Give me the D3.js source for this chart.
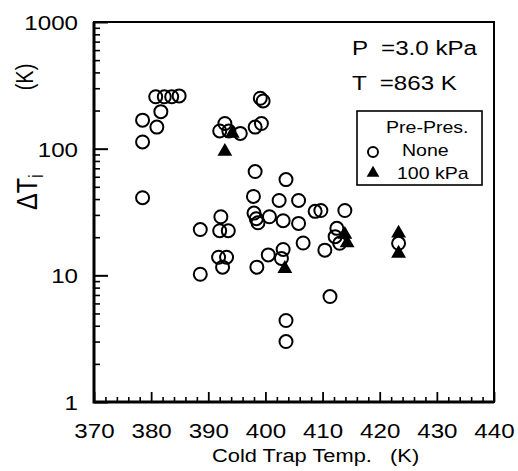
<!DOCTYPE html>
<html>
<head>
<meta charset="utf-8">
<script src="https://cdn.jsdelivr.net/npm/d3@7"></script>
<style>
  html, body { margin: 0; padding: 0; background: #fff; }
  svg { display: block; }
  text { font-family: "Liberation Sans", Arial, Helvetica, sans-serif; fill: #000; white-space: pre; }
</style>
</head>
<body>
<svg id="chart" width="518" height="471"></svg>
<script>
// Cold trap temperature (K) and temperature difference ΔTi (K), no pre-pressurisation
const noneTemp = [380.8, 382.3, 383.6, 384.9, 381.7, 378.5, 381.0, 378.5, 378.5,
  399.1, 399.6,
  392.9, 392.0, 393.6, 395.6, 398.2, 399.3,
  398.2, 403.6, 397.9, 402.4, 405.8, 408.7, 409.7, 413.9,
  392.2, 398.0, 398.4, 398.7, 400.7, 403.1, 405.8,
  392.0, 393.5, 388.6,
  406.6, 410.4,
  391.8, 393.2, 392.5, 388.6,
  398.5, 400.5, 403.1, 402.8,
  411.3, 403.6, 403.6,
  412.5, 412.2, 413.0,
  423.3];
const noneDT = [257, 257, 257, 261, 196, 168, 148, 113, 41,
  250, 238,
  158, 138, 138, 132, 148, 158,
  66, 57, 42, 39, 39, 32, 32.5, 32.5,
  29, 31, 28, 26, 29, 27, 25.7,
  22.5, 22.5, 23,
  18, 15.8,
  13.9, 13.9, 11.6, 10.2,
  11.6, 14.5, 16, 13.6,
  6.8, 4.4, 3.0,
  23.5, 20.2, 17.9,
  17.9];
// Pre-pressurised at 100 kPa
const preTemp = [394.2, 392.9, 403.4, 413.9, 414.3, 423.3, 423.3];
const preDT = [132, 95, 11.3, 21, 18, 21.5, 14.9];

const xTicks = [370, 380, 390, 400, 410, 420, 430, 440];
const yTicks = [1, 10, 100, 1000];
const xTitle = "Cold Trap Temp.   (K)";
const notes = ["P  =3.0 kPa", "T  =863 K"];
const legendTitle = "Pre-Pres.";
const legendLabels = ["None", "100 kPa"];

const SX = 1.15; // horizontal stretch of the lettering
const svg = d3.select("#chart");
const x = d3.scaleLinear().domain([370, 440]).range([94, 494]);
const y = d3.scaleLog().domain([1, 1000]).range([402, 22]);

const noneData = noneTemp.map((t, i) => ({t, v: noneDT[i]}));
const preData = preTemp.map((t, i) => ({t, v: preDT[i]}));

function label(g, str, px, py, size, anchor) {
  return g.append("text")
    .attr("transform", `translate(${px},${py}) scale(${SX},1)`)
    .attr("text-anchor", anchor || "start")
    .style("font-size", size + "px")
    .text(str);
}

// minor and major tick marks pointing inward
const xMinor = d3.range(372, 440, 2).filter(v => v % 10 !== 0);
svg.append("g").attr("transform", "translate(0,402)")
  .call(d3.axisBottom(x).tickValues(xMinor).tickSize(-5).tickFormat(""))
  .call(g => g.select(".domain").remove())
  .call(g => g.selectAll("line").attr("stroke-width", 1.6));
const xAxis = svg.append("g").attr("transform", "translate(0,402)")
  .call(d3.axisBottom(x).tickValues(xTicks).tickSize(-10).tickPadding(0).tickFormat(d3.format("d")))
  .call(g => g.select(".domain").remove())
  .call(g => g.selectAll("line").attr("stroke-width", 1.8));
xAxis.selectAll("text")
  .attr("y", null).attr("dy", null)
  .attr("transform", `translate(0,36) scale(${SX},1)`)
  .style("font-size", "21px").style("font-family", "Liberation Sans, Arial, sans-serif");

const yMinor = [];
[1, 10, 100].forEach(d => { for (let k = 2; k <= 9; k++) yMinor.push(d * k); });
svg.append("g").attr("transform", "translate(94,0)")
  .call(d3.axisLeft(y).tickValues(yMinor).tickSize(-6).tickFormat(""))
  .call(g => g.select(".domain").remove())
  .call(g => g.selectAll("line").attr("stroke-width", 1.6));
const yAxis = svg.append("g").attr("transform", "translate(94,0)")
  .call(d3.axisLeft(y).tickValues(yTicks).tickSize(-14).tickPadding(0).tickFormat(d3.format("d")))
  .call(g => g.select(".domain").remove())
  .call(g => g.selectAll("line").attr("stroke-width", 2));
yAxis.selectAll("text")
  .attr("x", null).attr("dy", "0.36em")
  .attr("transform", `translate(-16,0) scale(${SX},1)`)
  .style("font-size", "21px").style("font-family", "Liberation Sans, Arial, sans-serif");

// frame
svg.append("rect").attr("x", x(370)).attr("y", y(1000))
  .attr("width", x(440) - x(370)).attr("height", y(1) - y(1000))
  .attr("fill", "none").attr("stroke", "#000").attr("stroke-width", 2);
svg.append("path")
  .attr("d", `M${x(370)},${y(1000)}V${y(1)}H${x(440)}`)
  .attr("fill", "none").attr("stroke", "#000").attr("stroke-width", 3);

// data
svg.append("g").selectAll("circle").data(noneData).join("circle")
  .attr("cx", d => x(d.t)).attr("cy", d => y(d.v)).attr("r", 6.5)
  .attr("fill", "none").attr("stroke", "#000").attr("stroke-width", 2);
const tri = d3.symbol(d3.symbolTriangle, 95);
svg.append("g").selectAll("path").data(preData).join("path")
  .attr("transform", d => `translate(${x(d.t)},${y(d.v)})`)
  .attr("d", tri).attr("fill", "#000");

// axis titles
label(svg, xTitle, 212, 462, 19);
const yt = svg.append("text")
  .attr("transform", `translate(37,192) rotate(-90) scale(1,${SX})`)
  .attr("text-anchor", "middle").style("font-size", "25px");
yt.append("tspan").text("\u0394T");
yt.append("tspan").attr("dy", "0.3em").style("font-size", "17px").text("i");
svg.append("text")
  .attr("transform", `translate(33,77) rotate(-90) scale(1,${SX})`)
  .attr("text-anchor", "middle").style("font-size", "20px").text("(K)");

// conditions
label(svg, notes[0], 352, 55, 21);
label(svg, notes[1], 352, 90, 21);

// legend
svg.append("rect").attr("x", 357).attr("y", 111).attr("width", 125).attr("height", 74)
  .attr("fill", "#fff").attr("stroke", "#000").attr("stroke-width", 1.6);
label(svg, legendTitle, 386, 133, 17);
label(svg, legendLabels[0], 402, 156, 17);
label(svg, legendLabels[1], 397, 179, 17);
svg.append("circle").attr("cx", 373).attr("cy", 152).attr("r", 5)
  .attr("fill", "none").attr("stroke", "#000").attr("stroke-width", 2);
svg.append("path").attr("transform", "translate(373,173)")
  .attr("d", d3.symbol(d3.symbolTriangle, 70)).attr("fill", "#000");
</script>
</body>
</html>
